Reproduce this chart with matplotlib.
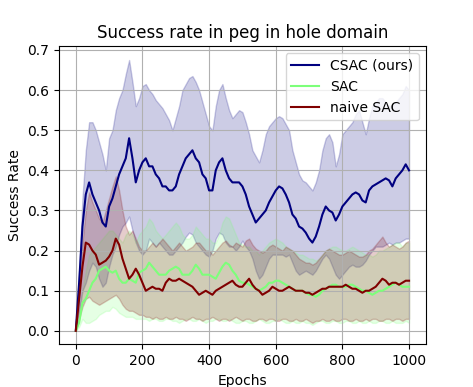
import matplotlib
matplotlib.use("Agg")
import matplotlib.pyplot as plt
import numpy as np

epochs = np.arange(0, 1001, 10)

csac_mean = [0.0, 0.12, 0.26, 0.34, 0.37, 0.34, 0.32, 0.30, 0.27, 0.26,
             0.31, 0.33, 0.36, 0.39, 0.41, 0.43, 0.48, 0.43, 0.37, 0.40,
             0.42, 0.43, 0.41, 0.41, 0.39, 0.38, 0.36, 0.36, 0.35, 0.35,
             0.36, 0.39, 0.41, 0.43, 0.44, 0.45, 0.43, 0.42, 0.39, 0.38,
             0.35, 0.35, 0.40, 0.42, 0.43, 0.40, 0.38, 0.37, 0.37, 0.37,
             0.36, 0.34, 0.31, 0.29, 0.27, 0.28, 0.29, 0.30, 0.32, 0.335,
             0.35, 0.36, 0.355, 0.34, 0.32, 0.29, 0.28, 0.26, 0.255, 0.245,
             0.23, 0.22, 0.235, 0.26, 0.29, 0.31, 0.30, 0.295, 0.275, 0.29,
             0.31, 0.32, 0.33, 0.34, 0.345, 0.34, 0.325, 0.32, 0.35, 0.36,
             0.365, 0.37, 0.375, 0.38, 0.375, 0.36, 0.38, 0.39, 0.40, 0.415,
             0.40]
csac_upper = [0.0, 0.15, 0.33, 0.45, 0.52, 0.52, 0.50, 0.47, 0.44, 0.40,
              0.48, 0.50, 0.55, 0.58, 0.60, 0.64, 0.675, 0.62, 0.56, 0.58,
              0.61, 0.615, 0.60, 0.59, 0.575, 0.565, 0.555, 0.54, 0.525, 0.50,
              0.53, 0.56, 0.60, 0.615, 0.63, 0.635, 0.62, 0.60, 0.57, 0.54,
              0.51, 0.50, 0.56, 0.60, 0.615, 0.58, 0.55, 0.53, 0.54, 0.55,
              0.545, 0.52, 0.49, 0.45, 0.435, 0.42, 0.45, 0.49, 0.51, 0.52,
              0.53, 0.535, 0.53, 0.515, 0.50, 0.45, 0.42, 0.39, 0.375, 0.37,
              0.36, 0.35, 0.37, 0.40, 0.45, 0.48, 0.49, 0.47, 0.41, 0.44,
              0.49, 0.50, 0.51, 0.52, 0.54, 0.55, 0.52, 0.49, 0.53, 0.56,
              0.57, 0.58, 0.58, 0.57, 0.56, 0.56, 0.57, 0.58, 0.59, 0.61,
              0.60]
csac_lower = [0.0, 0.05, 0.10, 0.12, 0.15, 0.17, 0.16, 0.13, 0.11, 0.12,
              0.16, 0.19, 0.21, 0.24, 0.26, 0.27, 0.285, 0.25, 0.22, 0.20,
              0.19, 0.20, 0.23, 0.22, 0.21, 0.22, 0.21, 0.20, 0.19, 0.19,
              0.20, 0.21, 0.22, 0.235, 0.245, 0.24, 0.22, 0.21, 0.20, 0.19,
              0.185, 0.20, 0.23, 0.245, 0.24, 0.22, 0.21, 0.21, 0.20, 0.21,
              0.225, 0.21, 0.20, 0.18, 0.15, 0.13, 0.14, 0.16, 0.18, 0.19,
              0.19, 0.19, 0.19, 0.185, 0.19, 0.17, 0.15, 0.14, 0.145, 0.15,
              0.145, 0.14, 0.15, 0.165, 0.18, 0.19, 0.18, 0.16, 0.14, 0.13,
              0.14, 0.15, 0.16, 0.165, 0.16, 0.16, 0.165, 0.175, 0.19, 0.20,
              0.21, 0.21, 0.21, 0.215, 0.22, 0.215, 0.22, 0.22, 0.225, 0.23,
              0.23]

sac_mean = [0.0, 0.02, 0.07, 0.08, 0.10, 0.12, 0.13, 0.15, 0.155, 0.16,
            0.15, 0.145, 0.15, 0.13, 0.12, 0.12, 0.13, 0.125, 0.12, 0.145,
            0.15, 0.155, 0.17, 0.16, 0.15, 0.14, 0.14, 0.14, 0.15, 0.155,
            0.16, 0.155, 0.14, 0.14, 0.14, 0.15, 0.165, 0.155, 0.14, 0.14,
            0.14, 0.135, 0.13, 0.145, 0.16, 0.17, 0.165, 0.15, 0.14, 0.125,
            0.12, 0.12, 0.115, 0.11, 0.105, 0.10, 0.105, 0.11, 0.12, 0.12,
            0.125, 0.125, 0.12, 0.115, 0.11, 0.105, 0.10, 0.10, 0.10, 0.095,
            0.09, 0.09, 0.085, 0.09, 0.10, 0.105, 0.11, 0.115, 0.115, 0.11,
            0.11, 0.11, 0.115, 0.115, 0.11, 0.105, 0.10, 0.10, 0.095, 0.09,
            0.095, 0.10, 0.10, 0.105, 0.11, 0.115, 0.12, 0.115, 0.11, 0.11,
            0.11]
sac_upper = [0.0, 0.03, 0.10, 0.15, 0.19, 0.20, 0.21, 0.22, 0.23, 0.24,
             0.25, 0.25, 0.24, 0.23, 0.22, 0.24, 0.25, 0.24, 0.22, 0.24,
             0.25, 0.26, 0.28, 0.27, 0.25, 0.24, 0.23, 0.24, 0.25, 0.26,
             0.27, 0.26, 0.24, 0.23, 0.23, 0.24, 0.26, 0.25, 0.24, 0.23,
             0.23, 0.22, 0.22, 0.24, 0.27, 0.285, 0.28, 0.26, 0.24, 0.22,
             0.215, 0.21, 0.21, 0.20, 0.20, 0.19, 0.20, 0.21, 0.22, 0.225,
             0.23, 0.225, 0.22, 0.21, 0.205, 0.20, 0.195, 0.19, 0.19, 0.185,
             0.18, 0.18, 0.175, 0.18, 0.19, 0.20, 0.205, 0.21, 0.21, 0.205,
             0.20, 0.20, 0.205, 0.21, 0.205, 0.20, 0.195, 0.19, 0.19, 0.185,
             0.19, 0.20, 0.20, 0.205, 0.21, 0.215, 0.22, 0.22, 0.21, 0.22,
             0.22]
sac_lower = [0.0, 0.01, 0.03, 0.02, 0.02, 0.025, 0.03, 0.04, 0.045, 0.05,
             0.05, 0.06, 0.055, 0.045, 0.04, 0.035, 0.035, 0.035, 0.03, 0.03,
             0.03, 0.03, 0.025, 0.03, 0.03, 0.025, 0.025, 0.03, 0.03, 0.025,
             0.025, 0.02, 0.025, 0.03, 0.03, 0.025, 0.025, 0.03, 0.025, 0.02,
             0.025, 0.025, 0.03, 0.03, 0.025, 0.025, 0.03, 0.025, 0.02, 0.02,
             0.025, 0.025, 0.02, 0.02, 0.025, 0.03, 0.025, 0.02, 0.02, 0.025,
             0.025, 0.03, 0.025, 0.02, 0.02, 0.025, 0.02, 0.02, 0.025, 0.02,
             0.02, 0.015, 0.02, 0.025, 0.025, 0.02, 0.02, 0.025, 0.025, 0.02,
             0.02, 0.025, 0.025, 0.02, 0.02, 0.025, 0.02, 0.02, 0.025, 0.02,
             0.02, 0.025, 0.025, 0.02, 0.02, 0.025, 0.02, 0.02, 0.02, 0.025,
             0.02]

naive_mean = [0.0, 0.08, 0.16, 0.22, 0.215, 0.20, 0.19, 0.165, 0.17, 0.175,
              0.185, 0.20, 0.23, 0.215, 0.18, 0.155, 0.13, 0.14, 0.155, 0.14,
              0.12, 0.10, 0.105, 0.11, 0.105, 0.105, 0.10, 0.12, 0.13, 0.125,
              0.125, 0.13, 0.125, 0.12, 0.115, 0.11, 0.10, 0.09, 0.095, 0.10,
              0.095, 0.09, 0.10, 0.105, 0.11, 0.115, 0.12, 0.125, 0.115, 0.11,
              0.11, 0.12, 0.13, 0.115, 0.105, 0.10, 0.09, 0.095, 0.10, 0.11,
              0.105, 0.10, 0.10, 0.105, 0.11, 0.105, 0.10, 0.10, 0.10, 0.095,
              0.095, 0.09, 0.095, 0.10, 0.105, 0.105, 0.11, 0.11, 0.11, 0.11,
              0.11, 0.115, 0.11, 0.105, 0.105, 0.10, 0.095, 0.10, 0.10, 0.105,
              0.11, 0.12, 0.13, 0.125, 0.115, 0.12, 0.12, 0.115, 0.12, 0.125,
              0.125]
naive_upper = [0.0, 0.10, 0.22, 0.30, 0.345, 0.32, 0.30, 0.28, 0.27, 0.30,
               0.33, 0.36, 0.385, 0.35, 0.30, 0.26, 0.24, 0.25, 0.23, 0.21,
               0.20, 0.20, 0.21, 0.22, 0.21, 0.22, 0.23, 0.22, 0.21, 0.20,
               0.21, 0.22, 0.21, 0.20, 0.205, 0.21, 0.22, 0.22, 0.21, 0.20,
               0.20, 0.19, 0.20, 0.21, 0.22, 0.225, 0.215, 0.21, 0.22, 0.215,
               0.21, 0.225, 0.23, 0.215, 0.205, 0.20, 0.195, 0.20, 0.21, 0.215,
               0.21, 0.205, 0.20, 0.21, 0.205, 0.20, 0.19, 0.18, 0.175, 0.17,
               0.17, 0.165, 0.17, 0.18, 0.19, 0.20, 0.205, 0.20, 0.195, 0.19,
               0.19, 0.195, 0.20, 0.195, 0.19, 0.185, 0.185, 0.19, 0.20, 0.205,
               0.215, 0.225, 0.235, 0.22, 0.21, 0.215, 0.21, 0.205, 0.21, 0.22,
               0.225]
naive_lower = [0.0, 0.03, 0.06, 0.08, 0.085, 0.075, 0.07, 0.065, 0.07, 0.075,
               0.08, 0.085, 0.09, 0.08, 0.065, 0.055, 0.05, 0.05, 0.045, 0.04,
               0.04, 0.035, 0.035, 0.03, 0.035, 0.03, 0.03, 0.035, 0.03, 0.03,
               0.035, 0.03, 0.03, 0.025, 0.03, 0.035, 0.03, 0.03, 0.025, 0.03,
               0.03, 0.035, 0.03, 0.025, 0.03, 0.03, 0.025, 0.03, 0.035, 0.03,
               0.025, 0.03, 0.03, 0.025, 0.025, 0.03, 0.03, 0.025, 0.03, 0.03,
               0.025, 0.025, 0.03, 0.03, 0.025, 0.025, 0.03, 0.025, 0.025, 0.03,
               0.025, 0.02, 0.025, 0.025, 0.03, 0.025, 0.025, 0.03, 0.025, 0.025,
               0.03, 0.03, 0.025, 0.025, 0.03, 0.025, 0.025, 0.03, 0.025, 0.03,
               0.03, 0.025, 0.025, 0.03, 0.03, 0.025, 0.03, 0.03, 0.025, 0.03,
               0.03]

labels = ["CSAC (ours)", "SAC", "naive SAC"]
colors = plt.cm.jet(np.linspace(0, 1, 3))

series = [
    (csac_mean, csac_lower, csac_upper),
    (sac_mean, sac_lower, sac_upper),
    (naive_mean, naive_lower, naive_upper),
]

fig, ax = plt.subplots(figsize=(4.73, 3.87), dpi=100)

for (mean, lower, upper), color, label in zip(series, colors, labels):
    ax.fill_between(epochs, lower, upper, color=color, alpha=0.2)
for (mean, lower, upper), color, label in zip(series, colors, labels):
    ax.plot(epochs, mean, color=color, label=label, linewidth=1.5)

ax.set_title("Success rate in peg in hole domain")
ax.set_xlabel("Epochs")
ax.set_ylabel("Success Rate")
ax.grid(True)
ax.legend(loc="upper right")

plt.savefig("out.png", dpi=100)
